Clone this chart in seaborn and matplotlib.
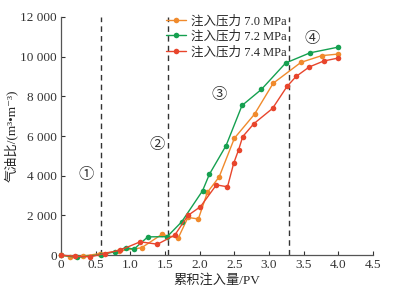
import pandas as pd
import seaborn as sns
import matplotlib.pyplot as plt
from matplotlib.ticker import FuncFormatter

# Gas-oil ratio vs cumulative injected volume, three injection pressures
pv_70 = [0, 0.13, 0.32, 0.56, 0.83, 1.16, 1.45, 1.69, 1.83, 1.98, 2.11, 2.28,
         2.50, 2.79, 3.06, 3.46, 3.76, 4.0]
gor_70 = [0, -80, -50, 80, 200, 370, 1040, 870, 1900, 1820, 3160, 3940,
          5890, 7100, 8660, 9710, 10050, 10130]

pv_72 = [0, 0.23, 0.57, 0.78, 0.93, 1.05, 1.25, 1.53, 1.74, 2.04, 2.14, 2.38,
         2.61, 2.89, 3.24, 3.59, 4.0]
gor_72 = [0, -110, 20, 170, 380, 300, 920, 930, 1680, 3240, 4080, 5520,
          7540, 8350, 9680, 10190, 10480]

pv_74 = [0, 0.20, 0.42, 0.63, 0.85, 1.14, 1.39, 1.64, 1.83, 2.01, 2.24, 2.40,
         2.49, 2.56, 2.62, 2.78, 3.05, 3.26, 3.39, 3.58, 3.79, 4.0]
gor_74 = [0, -60, -85, 80, 250, 670, 550, 1010, 2000, 2440, 3540, 3440,
          4630, 5300, 5970, 6620, 7390, 8500, 9000, 9480, 9780, 9930]

labels = ["注入压力 7.0 MPa", "注入压力 7.2 MPa", "注入压力 7.4 MPa"]
colors = ["#f08a2c", "#15a050", "#e8452c"]

stage_bounds = [0.57, 1.54, 3.29]
stage_marks = ["①", "②", "③", "④"]
stage_pos = [(0.36, 4050), (1.38, 5550), (2.28, 8050), (3.62, 10900)]

frames = []
for lab, xs, ys in zip(labels, [pv_70, pv_72, pv_74], [gor_70, gor_72, gor_74]):
    frames.append(pd.DataFrame({"pv": xs, "gor": ys, "series": lab}))
data = pd.concat(frames, ignore_index=True)

sns.set_style("ticks")
plt.rcParams["font.family"] = ["Liberation Serif", "Noto Sans CJK SC", "DejaVu Sans"]

fig = plt.figure(figsize=(4.05, 2.97), dpi=100)
ax = fig.add_axes([0.151, 0.141, 0.770, 0.802])

for xv in stage_bounds:
    ax.axvline(xv, color="#333333", linestyle=(0, (4, 3)), linewidth=1.0, zorder=1)

sns.lineplot(
    data=data, x="pv", y="gor", hue="series", hue_order=labels,
    palette=colors, marker="o", markersize=4, markeredgewidth=0,
    linewidth=1.0, estimator=None, sort=False, ax=ax, zorder=3,
)
# let the markers sitting on the x axis show
for ln in ax.lines:
    ln.set_clip_on(False)

for s, (xv, yv) in zip(stage_marks, stage_pos):
    ax.text(xv, yv, s, fontsize=11, ha="center", va="center", color="#333333")

ax.set_xlim(0, 4.5)
ax.set_ylim(0, 12000)
ax.set_xticks([0, 0.5, 1.0, 1.5, 2.0, 2.5, 3.0, 3.5, 4.0, 4.5])
ax.set_xticklabels(["0", "0.5", "1.0", "1.5", "2.0", "2.5", "3.0", "3.5", "4.0", "4.5"])
ax.set_yticks(range(0, 12001, 2000))
ax.yaxis.set_major_formatter(
    FuncFormatter(lambda v, p: f"{int(v):,}".replace(",", " ")))
ax.tick_params(direction="in", length=3, width=0.8, labelsize=9.5,
               colors="#333333", pad=3)
for side in ["top", "right"]:
    ax.spines[side].set_visible(False)
for side in ["left", "bottom"]:
    ax.spines[side].set_color("#555555")
    ax.spines[side].set_linewidth(0.9)

ax.set_xlabel("累积注入量/PV", fontsize=9.5, labelpad=2)
ax.set_ylabel("气油比/(m³•m⁻³)", fontsize=9.5, labelpad=2)

ax.legend(
    loc="upper left", bbox_to_anchor=(0.32, 1.03), frameon=False,
    fontsize=9, handlelength=1.6, handletextpad=0.4, labelspacing=0.25,
    borderaxespad=0,
)

fig.savefig("out.png", dpi=100)
